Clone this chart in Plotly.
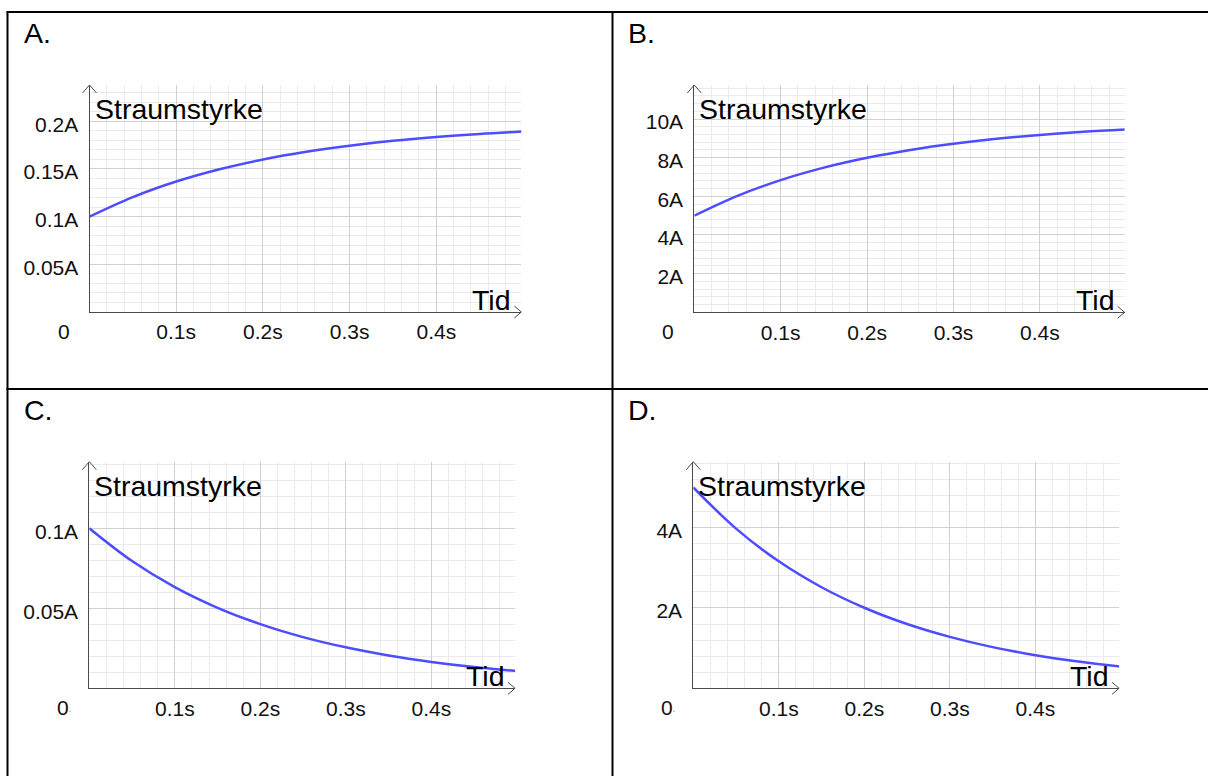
import plotly.graph_objects as go

# ---------------- data ----------------
t_s = [0.0, 0.05, 0.1, 0.15, 0.2, 0.25, 0.3, 0.35, 0.4, 0.45, 0.5]
current_A = [0.100, 0.1205, 0.1368, 0.1497, 0.1599, 0.168, 0.1744, 0.1795, 0.1835, 0.1867, 0.1892]
current_B = [5.0, 6.025, 6.84, 7.485, 7.995, 8.40, 8.72, 8.975, 9.175, 9.335, 9.46]
current_C = [0.100, 0.0795, 0.0632, 0.0503, 0.0401, 0.0320, 0.0256, 0.0205, 0.0165, 0.0133, 0.0108]
current_D = [5.0, 3.975, 3.16, 2.515, 2.005, 1.60, 1.28, 1.025, 0.825, 0.665, 0.54]

x_tickvals = [0.1, 0.2, 0.3, 0.4]
x_ticktext = ["0.1s", "0.2s", "0.3s", "0.4s"]

yA_tickvals = [0.05, 0.1, 0.15, 0.2]
yA_ticktext = ["0.05A", "0.1A", "0.15A", "0.2A"]
yB_tickvals = [2, 4, 6, 8, 10]
yB_ticktext = ["2A", "4A", "6A", "8A", "10A"]
yC_tickvals = [0.05, 0.1]
yC_ticktext = ["0.05A", "0.1A"]
yD_tickvals = [2, 4]
yD_ticktext = ["2A", "4A"]

panel_letters = ["A.", "B.", "C.", "D."]
y_title = "Straumstyrke"
x_title = "Tid"

# ---------------- layout helpers ----------------
W, H = 1208, 776
FONT = "Liberation Sans, Arial, sans-serif"
CURVE = "#4d4dff"
AXIS = "#4a4a4a"
MAJOR = "#d0d0d0"
MINOR = "#ebebeb"
TICK_SIZE = 21
TITLE_SIZE = 28.5

def px(x):
    return x / W

def py(y):
    return 1 - y / H

XMAX = 0.498
# panel geometry: origin x px, px per second, top px, bottom px, ymax, y minor step
panels = [
    dict(x0=89.5, sx=867, top=85, bot=312.0, ymax=0.238, minor=0.01,
         y=current_A, tv=yA_tickvals, tt=yA_ticktext, dot=False),
    dict(x0=694.3, sx=864, top=85, bot=312.3, ymax=11.76, minor=0.4,
         y=current_B, tv=yB_tickvals, tt=yB_ticktext, dot=False),
    dict(x0=89.3, sx=855, top=461.7, bot=688.3, ymax=0.1416, minor=0.01,
         y=current_C, tv=yC_tickvals, tt=yC_ticktext, dot=True),
    dict(x0=693.3, sx=855, top=461.7, bot=688.3, ymax=5.64, minor=0.4,
         y=current_D, tv=yD_tickvals, tt=yD_ticktext, dot=True),
]

fig = go.Figure()
shapes = []
annotations = []

for i, p in enumerate(panels):
    n = "" if i == 0 else str(i + 1)
    xa, ya = "x" + n, "y" + n
    fig.add_trace(go.Scatter(
        x=t_s, y=p["y"], mode="lines",
        line=dict(color=CURVE, width=2.5, shape="spline", smoothing=1.0),
        xaxis=xa, yaxis=ya, showlegend=False, hoverinfo="skip"))
    x1 = p["x0"] + XMAX * p["sx"]
    fig.layout["xaxis" + n] = dict(
        domain=[px(p["x0"]), px(x1)], anchor=ya, range=[0, XMAX],
        tickmode="array", tickvals=x_tickvals, ticktext=x_ticktext,
        showgrid=True, gridcolor=MAJOR, gridwidth=1, zeroline=False,
        showline=True, linecolor=AXIS, linewidth=1,
        ticks="outside", ticklen=1, tickcolor="rgba(0,0,0,0)",
        tickfont=dict(family=FONT, size=TICK_SIZE, color="#111"),
        minor=dict(tickmode="linear", tick0=0, dtick=0.02, showgrid=True,
                   gridcolor=MINOR, gridwidth=1, ticks=""),
        fixedrange=True)
    fig.layout["yaxis" + n] = dict(
        domain=[py(p["bot"]), py(p["top"])], anchor=xa, range=[0, p["ymax"]],
        tickmode="array", tickvals=p["tv"], ticktext=p["tt"],
        showgrid=True, gridcolor=MAJOR, gridwidth=1, zeroline=False,
        showline=True, linecolor=AXIS, linewidth=1,
        ticks="outside", ticklen=6, tickcolor="rgba(0,0,0,0)",
        ticklabelshift=3,
        tickfont=dict(family=FONT, size=TICK_SIZE, color="#111"),
        minor=dict(tickmode="linear", tick0=0, dtick=p["minor"], showgrid=True,
                   gridcolor=MINOR, gridwidth=1, ticks=""),
        fixedrange=True)
    # arrow heads (paper coordinates derived from panel geometry)
    x0, top, bot = p["x0"], p["top"], p["bot"]
    shapes.append(dict(type="path", xref="paper", yref="paper",
                       path=f"M {px(x0-7)},{py(top+8)} L {px(x0)},{py(top)} L {px(x0+7)},{py(top+8)}",
                       line=dict(color=AXIS, width=1)))
    shapes.append(dict(type="path", xref="paper", yref="paper",
                       path=f"M {px(x1-7)},{py(bot-6)} L {px(x1)},{py(bot)} L {px(x1-7)},{py(bot+6)}",
                       line=dict(color=AXIS, width=1)))
    # texts
    annotations.append(dict(text=y_title, xref="paper", yref="paper",
                            x=px(x0 + 3), y=py(top + 24), xanchor="left", yanchor="middle",
                            showarrow=False, font=dict(family=FONT, size=TITLE_SIZE, color="#000")))
    annotations.append(dict(text=x_title, xref="paper", yref="paper",
                            x=px(x1 - 8), y=py(bot - 12), xanchor="right", yanchor="middle",
                            showarrow=False, font=dict(family=FONT, size=TITLE_SIZE, color="#000")))
    annotations.append(dict(text="0", xref="paper", yref="paper",
                            x=px(x0 - 26), y=py(bot + 19), xanchor="center", yanchor="middle",
                            showarrow=False, font=dict(family=FONT, size=TICK_SIZE, color="#111")))
    if p["dot"]:
        annotations.append(dict(text=".", xref="paper", yref="paper",
                                x=px(x0 - 19), y=py(bot + 19), xanchor="center", yanchor="middle",
                                showarrow=False, font=dict(family=FONT, size=14, color="#bbbbbb")))

# panel letters
letter_pos = [(22, 33), (626, 33), (22, 410), (626, 410)]
for lab, (lx, ly) in zip(panel_letters, letter_pos):
    annotations.append(dict(text=lab, xref="paper", yref="paper", x=px(lx), y=py(ly),
                            xanchor="left", yanchor="middle", showarrow=False,
                            font=dict(family=FONT, size=TITLE_SIZE, color="#000")))

# table borders
border = dict(color="#000", width=2)
shapes += [
    dict(type="line", xref="paper", yref="paper", x0=px(6.5), x1=1, y0=py(12), y1=py(12), line=border),
    dict(type="line", xref="paper", yref="paper", x0=px(7.5), x1=px(7.5), y0=py(12), y1=0, line=border),
    dict(type="line", xref="paper", yref="paper", x0=px(612.5), x1=px(612.5), y0=py(12), y1=0, line=border),
    dict(type="line", xref="paper", yref="paper", x0=px(6.5), x1=1, y0=py(389), y1=py(389), line=border),
]

fig.update_layout(width=W, height=H, margin=dict(l=0, r=0, t=0, b=0),
                  paper_bgcolor="white", plot_bgcolor="white",
                  shapes=shapes, annotations=annotations, showlegend=False)

fig.write_html("out.html", config={"displayModeBar": False})
